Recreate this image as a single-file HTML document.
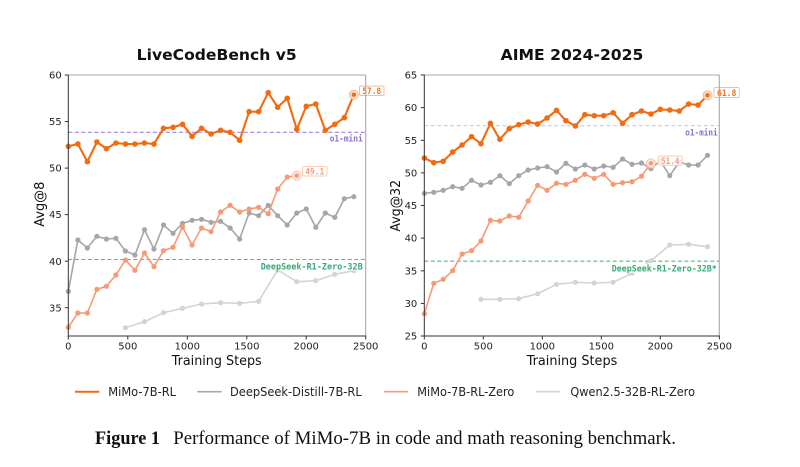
<!DOCTYPE html>
<html><head><meta charset="utf-8"><style>
html,body{margin:0;padding:0;background:#fff;}
svg{display:block;}
.tk{font-family:"DejaVu Sans","Liberation Sans",sans-serif;font-size:10px;fill:#222;}
.ax{font-family:"DejaVu Sans","Liberation Sans",sans-serif;font-size:13px;fill:#111;}
.tt{font-family:"DejaVu Sans","Liberation Sans",sans-serif;font-size:15px;font-weight:bold;fill:#111;}
.lg{font-family:"DejaVu Sans","Liberation Sans",sans-serif;font-size:12.5px;fill:#222;}
.lb{font-family:"DejaVu Sans Mono","Liberation Mono",monospace;font-size:8.8px;font-weight:bold;}
.cap{font-family:"Liberation Serif",serif;font-size:18.5px;fill:#111;}
</style></head><body>
<svg width="800" height="467" viewBox="0 0 800 467" xmlns="http://www.w3.org/2000/svg">
<defs>
<marker id="mA" viewBox="0 0 7 7" refX="3.5" refY="3.5" markerWidth="7" markerHeight="7" markerUnits="userSpaceOnUse"><circle cx="3.5" cy="3.5" r="2.8" fill="#f26b10"/></marker>
<marker id="mB" viewBox="0 0 7 7" refX="3.5" refY="3.5" markerWidth="7" markerHeight="7" markerUnits="userSpaceOnUse"><circle cx="3.5" cy="3.5" r="2.6" fill="#a6a6a6"/></marker>
<marker id="mC" viewBox="0 0 7 7" refX="3.5" refY="3.5" markerWidth="7" markerHeight="7" markerUnits="userSpaceOnUse"><circle cx="3.5" cy="3.5" r="2.6" fill="#f59a74"/></marker>
<marker id="mD" viewBox="0 0 7 7" refX="3.5" refY="3.5" markerWidth="7" markerHeight="7" markerUnits="userSpaceOnUse"><circle cx="3.5" cy="3.5" r="2.6" fill="#d4d4d4"/></marker>
</defs>
<rect width="800" height="467" fill="#fff"/>

<!-- ===== LEFT CHART ===== -->
<text class="tt" x="216.7" y="60" text-anchor="middle" textLength="160" lengthAdjust="spacingAndGlyphs">LiveCodeBench v5</text>
<line x1="68.3" y1="132.3" x2="365.7" y2="132.3" stroke="#9d85dc" stroke-width="1.1" stroke-dasharray="4 2.5"/>
<line x1="68.3" y1="259.5" x2="365.7" y2="259.5" stroke="#45bf8e" stroke-width="1.1" stroke-dasharray="4 2.5"/>
<polyline fill="none" stroke="#d4d4d4" stroke-width="1.6" marker-start="url(#mD)" marker-mid="url(#mD)" marker-end="url(#mD)" points="125.43,327.7 144.47,321.7 163.50,312.7 182.53,308.3 201.57,304.0 220.60,302.7 239.64,303.3 258.67,301.3 277.70,270.0 296.74,281.7 315.77,280.7 334.81,274.3 353.84,270.7"/>
<polyline fill="none" stroke="#a6a6a6" stroke-width="1.6" marker-start="url(#mB)" marker-mid="url(#mB)" marker-end="url(#mB)" points="68.33,291.3 77.85,240.0 87.36,248.0 96.88,236.3 106.40,239.0 115.92,238.3 125.43,251.0 134.95,255.0 144.47,229.7 153.98,249.0 163.50,225.0 173.02,233.3 182.53,223.3 192.05,220.3 201.57,219.3 211.09,222.3 220.60,221.3 230.12,228.0 239.64,239.0 249.15,213.0 258.67,215.7 268.19,205.3 277.70,215.7 287.22,225.0 296.74,213.0 306.26,209.0 315.77,227.3 325.29,213.0 334.81,217.3 344.32,198.7 353.84,196.7"/>
<polyline fill="none" stroke="#f59a74" stroke-width="1.6" marker-start="url(#mC)" marker-mid="url(#mC)" points="68.33,327.3 77.85,313.0 87.36,313.0 96.88,289.3 106.40,286.3 115.92,275.0 125.43,260.0 134.95,270.3 144.47,253.0 153.98,266.7 163.50,250.7 173.02,247.3 182.53,227.0 192.05,245.0 201.57,228.0 211.09,231.7 220.60,212.0 230.12,205.3 239.64,212.0 249.15,209.0 258.67,207.3 268.19,213.7 277.70,189.0 287.22,177.0 296.74,175.7"/>
<polyline fill="none" stroke="#f26b10" stroke-width="2.1" marker-start="url(#mA)" marker-mid="url(#mA)" points="68.33,146.3 77.85,144.0 87.36,161.7 96.88,142.0 106.40,148.7 115.92,143.0 125.43,144.0 134.95,144.0 144.47,143.0 153.98,144.0 163.50,128.3 173.02,127.3 182.53,124.3 192.05,136.3 201.57,128.3 211.09,134.0 220.60,130.3 230.12,132.3 239.64,140.3 249.15,111.7 258.67,111.7 268.19,92.7 277.70,107.3 287.22,98.3 296.74,129.3 306.26,106.3 315.77,104.0 325.29,130.3 334.81,124.3 344.32,117.7 353.84,94.7"/>
<circle cx="353.84" cy="94.7" r="4.5" fill="#fcdcc4" stroke="#f6b58a" stroke-width="0.9"/>
<circle cx="353.84" cy="94.7" r="2.2" fill="#f26b10"/>
<circle cx="296.74" cy="175.7" r="4.5" fill="#fde6da" stroke="#f8c2a8" stroke-width="0.9"/>
<circle cx="296.74" cy="175.7" r="2.2" fill="#f59a74"/>
<text class="lb" x="362.7" y="141.3" text-anchor="end" fill="#8c6fd0" textLength="33" lengthAdjust="spacingAndGlyphs">o1-mini</text>
<rect x="259.5" y="262" width="104" height="8.5" fill="#fff" opacity="0.85"/>
<text class="lb" x="362.7" y="269.3" text-anchor="end" fill="#38a876" textLength="102" lengthAdjust="spacingAndGlyphs">DeepSeek-R1-Zero-32B</text>
<rect x="359.5" y="86" width="24.5" height="9.5" rx="1.5" fill="#fff" stroke="#f7bf99" stroke-width="1"/>
<text class="lb" x="371.7" y="94" text-anchor="middle" fill="#ef7224" textLength="19" lengthAdjust="spacingAndGlyphs">57.8</text>
<rect x="302.7" y="166.5" width="24.3" height="9.5" rx="1.5" fill="#fff" stroke="#f9cdb6" stroke-width="1"/>
<text class="lb" x="314.8" y="174.5" text-anchor="middle" fill="#f4a07e" textLength="19" lengthAdjust="spacingAndGlyphs">49.1</text>
<line x1="68.3" y1="75" x2="365.7" y2="75" stroke="#a8a8a8" stroke-width="1.1"/>
<line x1="365.7" y1="75" x2="365.7" y2="336" stroke="#a8a8a8" stroke-width="1.1"/>
<line x1="68.3" y1="74.5" x2="68.3" y2="336.5" stroke="#333" stroke-width="1"/>
<line x1="67.8" y1="336" x2="366.2" y2="336" stroke="#333" stroke-width="1"/>
<g stroke="#333" stroke-width="1">
<line x1="64.8" y1="75" x2="68.3" y2="75"/><line x1="64.8" y1="121.5" x2="68.3" y2="121.5"/><line x1="64.8" y1="168.1" x2="68.3" y2="168.1"/><line x1="64.8" y1="214.6" x2="68.3" y2="214.6"/><line x1="64.8" y1="261.2" x2="68.3" y2="261.2"/><line x1="64.8" y1="307.7" x2="68.3" y2="307.7"/>
<line x1="68.3" y1="336" x2="68.3" y2="339.5"/><line x1="127.8" y1="336" x2="127.8" y2="339.5"/><line x1="187.3" y1="336" x2="187.3" y2="339.5"/><line x1="246.8" y1="336" x2="246.8" y2="339.5"/><line x1="306.2" y1="336" x2="306.2" y2="339.5"/><line x1="365.7" y1="336" x2="365.7" y2="339.5"/>
</g>
<g class="tk" text-anchor="end">
<text x="61.7" y="78.6">60</text><text x="61.7" y="125.1">55</text><text x="61.7" y="171.7">50</text><text x="61.7" y="218.2">45</text><text x="61.7" y="264.8">40</text><text x="61.7" y="311.3">35</text>
</g>
<g class="tk" text-anchor="middle">
<text x="68.3" y="349.6">0</text><text x="127.8" y="349.6">500</text><text x="187.3" y="349.6">1000</text><text x="246.8" y="349.6">1500</text><text x="306.2" y="349.6">2000</text><text x="365.7" y="349.6">2500</text>
</g>
<text class="ax" x="216.7" y="365" text-anchor="middle" textLength="90" lengthAdjust="spacingAndGlyphs">Training Steps</text>
<text class="ax" transform="translate(44,204.2) rotate(-90)" text-anchor="middle" textLength="45" lengthAdjust="spacingAndGlyphs">Avg@8</text>

<!-- ===== RIGHT CHART ===== -->
<text class="tt" x="572" y="60" text-anchor="middle" textLength="142.7" lengthAdjust="spacingAndGlyphs">AIME 2024-2025</text>
<line x1="424.3" y1="125.7" x2="719.3" y2="125.7" stroke="#cfc5f0" stroke-width="1.1" stroke-dasharray="4 2.5"/>
<line x1="424.3" y1="261.2" x2="719.3" y2="261.2" stroke="#45bf8e" stroke-width="1.1" stroke-dasharray="4 2.5"/>
<polyline fill="none" stroke="#d4d4d4" stroke-width="1.6" marker-start="url(#mD)" marker-mid="url(#mD)" marker-end="url(#mD)" points="480.97,299.3 499.85,299.3 518.73,298.7 537.61,293.7 556.49,284.3 575.37,282.3 594.25,283.0 613.13,282.3 632.01,273.3 650.89,260.7 669.77,245.0 688.65,244.3 707.53,246.7"/>
<polyline fill="none" stroke="#a6a6a6" stroke-width="1.6" marker-start="url(#mB)" marker-mid="url(#mB)" marker-end="url(#mB)" points="424.33,193.3 433.77,192.3 443.21,190.3 452.65,186.7 462.09,188.3 471.53,180.3 480.97,185.0 490.41,182.3 499.85,175.7 509.29,183.7 518.73,175.7 528.17,170.0 537.61,168.0 547.05,166.7 556.49,172.0 565.93,163.3 575.37,169.0 584.81,165.0 594.25,169.0 603.69,166.0 613.13,167.3 622.57,159.0 632.01,164.3 641.45,163.0 650.89,168.7 660.33,161 669.77,175.7 679.21,162 688.65,165.0 698.09,165.0 707.53,155.3"/>
<polyline fill="none" stroke="#f59a74" stroke-width="1.6" marker-start="url(#mC)" marker-mid="url(#mC)" points="424.33,313.7 433.77,283.3 443.21,279.3 452.65,270.7 462.09,254.0 471.53,250.7 480.97,241.0 490.41,220.3 499.85,221.0 509.29,216.0 518.73,217.3 528.17,201.0 537.61,185.3 547.05,190.3 556.49,183.3 565.93,184.3 575.37,180.3 584.81,174.3 594.25,178.3 603.69,174.3 613.13,184.3 622.57,182.7 632.01,181.7 641.45,176.3 650.89,163.3"/>
<polyline fill="none" stroke="#f26b10" stroke-width="2.1" marker-start="url(#mA)" marker-mid="url(#mA)" points="424.33,158.0 433.77,162.7 443.21,161.3 452.65,152.0 462.09,145.0 471.53,136.7 480.97,143.7 490.41,123.3 499.85,139.3 509.29,128.7 518.73,124.7 528.17,122.0 537.61,124.0 547.05,118.0 556.49,110.3 565.93,120.7 575.37,126.0 584.81,114.7 594.25,115.7 603.69,115.7 613.13,112.7 622.57,123.3 632.01,114.7 641.45,111.0 650.89,114.0 660.33,109.3 669.77,110.0 679.21,111.0 688.65,104.0 698.09,105.0 707.53,95.3"/>
<circle cx="707.53" cy="95.3" r="4.5" fill="#fcdcc4" stroke="#f6b58a" stroke-width="0.9"/>
<circle cx="707.53" cy="95.3" r="2.2" fill="#f26b10"/>
<circle cx="650.89" cy="163.3" r="4.5" fill="#fde6da" stroke="#f8c2a8" stroke-width="0.9"/>
<circle cx="650.89" cy="163.3" r="2.2" fill="#f59a74"/>
<text class="lb" x="717.7" y="135.7" text-anchor="end" fill="#8c6fd0" textLength="32.5" lengthAdjust="spacingAndGlyphs">o1-mini</text>
<rect x="610.5" y="263.8" width="108" height="9" fill="#fff" opacity="0.9"/>
<text class="lb" x="716.8" y="271.5" text-anchor="end" fill="#38a876" textLength="105" lengthAdjust="spacingAndGlyphs">DeepSeek-R1-Zero-32B*</text>
<rect x="714" y="87.5" width="25.3" height="10" rx="1.5" fill="#fff" stroke="#f7bf99" stroke-width="1"/>
<text class="lb" x="726.7" y="95.8" text-anchor="middle" fill="#ef7224" textLength="19.5" lengthAdjust="spacingAndGlyphs">61.8</text>
<rect x="658.3" y="156" width="23.7" height="9.3" rx="1.5" fill="#fff" fill-opacity="0.85" stroke="#f9cdb6" stroke-width="1"/>
<text class="lb" x="670.2" y="163.8" text-anchor="middle" fill="#f4a07e" textLength="18.5" lengthAdjust="spacingAndGlyphs">51.4</text>
<line x1="424.3" y1="75" x2="719.3" y2="75" stroke="#a8a8a8" stroke-width="1.1"/>
<line x1="719.3" y1="75" x2="719.3" y2="336" stroke="#a8a8a8" stroke-width="1.1"/>
<line x1="424.3" y1="74.5" x2="424.3" y2="336.5" stroke="#333" stroke-width="1"/>
<line x1="423.8" y1="336" x2="719.8" y2="336" stroke="#333" stroke-width="1"/>
<g stroke="#333" stroke-width="1">
<line x1="420.8" y1="75" x2="424.3" y2="75"/><line x1="420.8" y1="107.6" x2="424.3" y2="107.6"/><line x1="420.8" y1="140.3" x2="424.3" y2="140.3"/><line x1="420.8" y1="172.9" x2="424.3" y2="172.9"/><line x1="420.8" y1="205.5" x2="424.3" y2="205.5"/><line x1="420.8" y1="238.1" x2="424.3" y2="238.1"/><line x1="420.8" y1="270.8" x2="424.3" y2="270.8"/><line x1="420.8" y1="303.4" x2="424.3" y2="303.4"/><line x1="420.8" y1="336" x2="424.3" y2="336"/>
<line x1="424.3" y1="336" x2="424.3" y2="339.5"/><line x1="483.3" y1="336" x2="483.3" y2="339.5"/><line x1="542.3" y1="336" x2="542.3" y2="339.5"/><line x1="601.3" y1="336" x2="601.3" y2="339.5"/><line x1="660.3" y1="336" x2="660.3" y2="339.5"/><line x1="719.3" y1="336" x2="719.3" y2="339.5"/>
</g>
<g class="tk" text-anchor="end">
<text x="417.3" y="78.6">65</text><text x="417.3" y="111.2">60</text><text x="417.3" y="143.9">55</text><text x="417.3" y="176.5">50</text><text x="417.3" y="209.1">45</text><text x="417.3" y="241.7">40</text><text x="417.3" y="274.4">35</text><text x="417.3" y="307">30</text><text x="417.3" y="339.6">25</text>
</g>
<g class="tk" text-anchor="middle">
<text x="424.3" y="349.6">0</text><text x="483.3" y="349.6">500</text><text x="542.3" y="349.6">1000</text><text x="601.3" y="349.6">1500</text><text x="660.3" y="349.6">2000</text><text x="719.3" y="349.6">2500</text>
</g>
<text class="ax" x="572" y="365" text-anchor="middle" textLength="90.6" lengthAdjust="spacingAndGlyphs">Training Steps</text>
<text class="ax" transform="translate(400,205.8) rotate(-90)" text-anchor="middle" textLength="51.7" lengthAdjust="spacingAndGlyphs">Avg@32</text>

<!-- ===== LEGEND ===== -->
<line x1="75" y1="391.7" x2="99.3" y2="391.7" stroke="#f26b10" stroke-width="2"/>
<text class="lg" x="108.3" y="396.2" textLength="67.7" lengthAdjust="spacingAndGlyphs">MiMo-7B-RL</text>
<line x1="197.3" y1="391.7" x2="221.7" y2="391.7" stroke="#a6a6a6" stroke-width="1.7"/>
<text class="lg" x="230" y="396.2" textLength="131.7" lengthAdjust="spacingAndGlyphs">DeepSeek-Distill-7B-RL</text>
<line x1="384" y1="391.7" x2="408" y2="391.7" stroke="#f59a74" stroke-width="1.7"/>
<text class="lg" x="417.3" y="396.2" textLength="97" lengthAdjust="spacingAndGlyphs">MiMo-7B-RL-Zero</text>
<line x1="536" y1="391.7" x2="560" y2="391.7" stroke="#d4d4d4" stroke-width="1.7"/>
<text class="lg" x="570.4" y="396.2" textLength="124.6" lengthAdjust="spacingAndGlyphs">Qwen2.5-32B-RL-Zero</text>

<!-- ===== CAPTION ===== -->
<text class="cap" x="95" y="444" font-weight="bold" textLength="65" lengthAdjust="spacingAndGlyphs">Figure 1</text>
<text class="cap" x="173.3" y="444" textLength="502.7" lengthAdjust="spacingAndGlyphs">Performance of MiMo-7B in code and math reasoning benchmark.</text>
</svg>
</body></html>
